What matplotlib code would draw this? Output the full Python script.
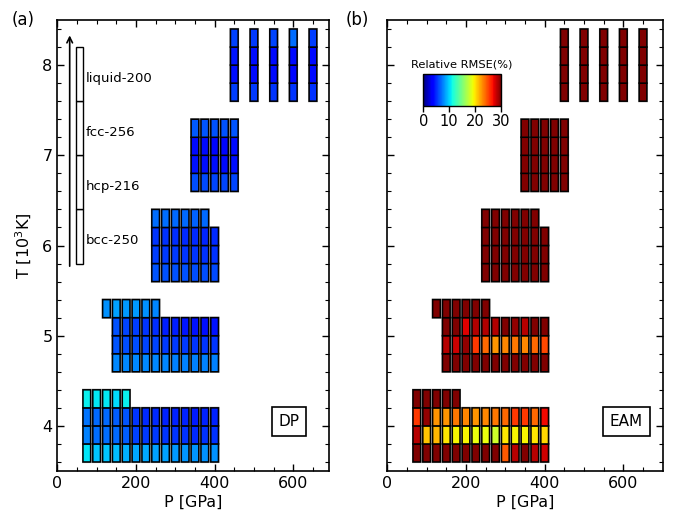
import matplotlib
matplotlib.use("Agg")
import matplotlib.pyplot as plt
from matplotlib.patches import Rectangle
from matplotlib.colors import Normalize
from matplotlib.cm import ScalarMappable

# pressures (GPa) of the cells in each temperature block
p_4 = [75, 100, 125, 150, 175, 200, 225, 250, 275, 300, 325, 350, 375, 400]
p_4_liq = [75, 100, 125, 150, 175]
p_5 = [150, 175, 200, 225, 250, 275, 300, 325, 350, 375, 400]
p_5_liq = [125, 150, 175, 200, 225, 250]
p_6 = [250, 275, 300, 325, 350, 375, 400]
p_6_liq = [250, 275, 300, 325, 350, 375]
p_7 = [350, 375, 400, 425, 450]
p_8 = [450, 500, 550, 600, 650]

temps = [4, 5, 6, 7, 8]
phases = ["bcc", "hcp", "fcc", "liquid"]
phase_labels = ["bcc-250", "hcp-216", "fcc-256", "liquid-200"]

# relative RMSE (%) - DP
dp_4 = dict(bcc=[10.5, 9.5, 9.5, 9.3, 9, 8.7, 8.7, 8.5, 8.5, 8.3, 8.2, 8.2, 8, 8],
            hcp=[7.5, 7.0, 7.0, 6.8, 6.5, 5.7, 5.5, 5.5, 5.3, 5.3, 5.2, 5.0, 5.2, 5.2],
            fcc=[7.2, 6.8, 6.8, 6.5, 6.3, 5.3, 5.0, 5.0, 4.8, 4.8, 4.7, 4.5, 4.7, 4.7],
            liquid=[10.8, 10.6, 10.6, 10.3, 10.8])
dp_5 = dict(bcc=[7.8, 7.8, 7.8, 7.8, 7.8, 7.7, 7.6, 7.6, 7.5, 7.5, 7.5],
            hcp=[6.3, 6.0, 6.0, 5.8, 5.8, 5.5, 5.5, 5.4, 5.3, 5.3, 5.3],
            fcc=[6.2, 5.8, 5.6, 5.3, 5.1, 4.6, 4.6, 4.4, 4.3, 4.2, 4.3],
            liquid=[8.0, 8.5, 8.3, 8.3, 8.0, 7.7])
dp_6 = dict(bcc=[6.3, 6.2, 6.2, 6.1, 6.0, 6.0, 5.9],
            hcp=[5.6, 5.5, 5.4, 5.3, 5.3, 5.2, 5.2],
            fcc=[5.3, 5.2, 5.1, 5.0, 5.0, 4.9, 5.0],
            liquid=[7.0, 7.0, 6.8, 6.8, 6.6, 6.8])
dp_7 = dict(bcc=[6.0, 5.9, 5.8, 5.8, 5.8],
            hcp=[4.3, 4.2, 4.2, 4.1, 4.2],
            fcc=[4.1, 4.0, 3.9, 3.9, 4.0],
            liquid=[6.4, 6.3, 6.2, 6.2, 6.3])
dp_8 = dict(bcc=[5.6, 5.5, 5.3, 5.3, 5.2],
            hcp=[4.2, 4.1, 4.0, 3.9, 4.0],
            fcc=[4.4, 4.2, 4.1, 4.0, 4.1],
            liquid=[5.7, 5.5, 5.8, 7.0, 5.6])

# relative RMSE (%) - EAM
eam_4 = dict(bcc=[31, 31, 31, 31, 31, 31, 31, 31, 31, 24.4, 28.5, 31, 28.5, 28],
             hcp=[28.5, 21, 21.5, 20, 19.5, 19.5, 19, 19, 18, 20, 19.5, 19.5, 20, 20.5],
             fcc=[25.5, 29.5, 22.5, 22.5, 23.5, 23, 22.5, 23, 23.5, 24, 25.5, 25.5, 24, 27],
             liquid=[31, 31, 31, 31, 31])
eam_5 = dict(bcc=[31, 31, 31, 31, 31, 31, 31, 31, 31, 31, 31],
             hcp=[28.5, 28, 29.5, 25.5, 24, 22.5, 23, 23.5, 23, 24, 25],
             fcc=[31, 30, 27.5, 28.7, 28.7, 28.7, 31, 29.5, 28.5, 31, 31],
             liquid=[31, 31, 31, 31, 31, 31])
eam_6 = dict(bcc=[31, 31, 31, 31, 31, 31, 31],
             hcp=[31, 31, 31, 31, 31, 31, 31],
             fcc=[31, 31, 31, 31, 31, 31, 31],
             liquid=[31, 31, 31, 31, 31, 31])
eam_7 = dict(bcc=[31, 31, 31, 31, 31],
             hcp=[31, 31, 31, 31, 31],
             fcc=[31, 31, 31, 31, 31],
             liquid=[31, 31, 31, 31, 31])
eam_8 = dict(bcc=[31, 31, 31, 31, 31],
             hcp=[31, 31, 31, 31, 31],
             fcc=[31, 31, 31, 31, 31],
             liquid=[31, 31, 31, 31, 31])

pres = [(p_4, p_4_liq), (p_5, p_5_liq), (p_6, p_6_liq), (p_7, p_7), (p_8, p_8)]
dp_all = [dp_4, dp_5, dp_6, dp_7, dp_8]
eam_all = [eam_4, eam_5, eam_6, eam_7, eam_8]

cmap = plt.get_cmap("jet")
norm = Normalize(0, 30)
cw = 19.5   # cell width in GPa
ch = 0.2    # cell height in 10^3 K


def draw_block(ax, T, ps, ps_liq, vals):
    for k, ph in enumerate(phases):
        xs = ps_liq if ph == "liquid" else ps
        y0 = T - 0.4 + ch * k
        for p, v in zip(xs, vals[ph]):
            ax.add_patch(Rectangle((p - cw / 2 - 2.4, y0 - 0.012), cw + 4.8, ch + 0.024,
                                   fc="0.6", ec="none", zorder=2, snap=False))
        for p, v in zip(xs, vals[ph]):
            ax.add_patch(Rectangle((p - cw / 2, y0), cw, ch, fc=cmap(norm(v)),
                                   ec="black", lw=1.1, zorder=3, snap=False))


def style(ax, xmax):
    ax.set_xlim(0, xmax)
    ax.set_ylim(3.5, 8.5)
    ax.set_xticks([0, 200, 400, 600])
    ax.set_xticks(range(50, int(xmax), 50), minor=True)
    ax.set_yticks([4, 5, 6, 7, 8])
    ax.set_yticks([3.6, 3.8, 4.2, 4.4, 4.6, 4.8, 5.2, 5.4, 5.6, 5.8, 6.2, 6.4,
                   6.6, 6.8, 7.2, 7.4, 7.6, 7.8, 8.2, 8.4], minor=True)
    ax.tick_params(which="both", direction="in", top=True, right=True, labelsize=11.5)
    ax.tick_params(which="major", length=5, width=1)
    ax.tick_params(which="minor", length=3, width=0.8)
    for s in ax.spines.values():
        s.set_linewidth(1.2)
    ax.set_xlabel("P [GPa]", fontsize=11.5, labelpad=3)


fig = plt.figure(figsize=(6.81, 5.21), dpi=100)
ax1 = fig.add_axes([57.3 / 681, 1 - 471 / 521, 271.4 / 681, 451 / 521])
ax2 = fig.add_axes([387.3 / 681, 1 - 471 / 521, 275.4 / 681, 451 / 521])

for T, (ps, ps_liq), v1, v2 in zip(temps, pres, dp_all, eam_all):
    draw_block(ax1, T, ps, ps_liq, v1)
    draw_block(ax2, T, ps, ps_liq, v2)

style(ax1, 690)
style(ax2, 700)
ax2.set_yticklabels([])
ax1.set_ylabel("T [10$^3$K]", fontsize=11.5, labelpad=6)

# phase legend bar
for k, lab in enumerate(phase_labels):
    y0 = 5.8 + 0.6 * k
    ax1.add_patch(Rectangle((47, y0), 18, 0.6, fc="white", ec="black", lw=1.0, zorder=3))
    ax1.text(73, y0 + 0.25, lab, fontsize=9.5, ha="left", va="center")
ax1.annotate("", xy=(31.5, 8.36), xytext=(31.5, 5.74),
             arrowprops=dict(arrowstyle="->", lw=1.2, color="black"))

box = dict(boxstyle="square,pad=0.45", fc="white", ec="black", lw=1.2)
ax1.text(589, 4.05, "DP", fontsize=11, ha="center", va="center", bbox=box)
ax2.text(608, 4.05, "EAM", fontsize=11, ha="center", va="center", bbox=box)

# colorbar inset
cax = fig.add_axes([423.3 / 681, 1 - 106 / 521, 77.7 / 681, 31.7 / 521])
cb = fig.colorbar(ScalarMappable(norm=norm, cmap=cmap), cax=cax,
                  orientation="horizontal", ticks=[0, 10, 20, 30])
cb.outline.set_linewidth(1.0)
cax.tick_params(labelsize=10.5, length=4, width=1, direction="out", pad=2)
cax.set_title("Relative RMSE(%)", fontsize=8.2, pad=5)

fig.text(23 / 681, 1 - 20 / 521, "(a)", fontsize=12, ha="center", va="center")
fig.text(357 / 681, 1 - 20 / 521, "(b)", fontsize=12, ha="center", va="center")

plt.savefig("out.png", dpi=100)
